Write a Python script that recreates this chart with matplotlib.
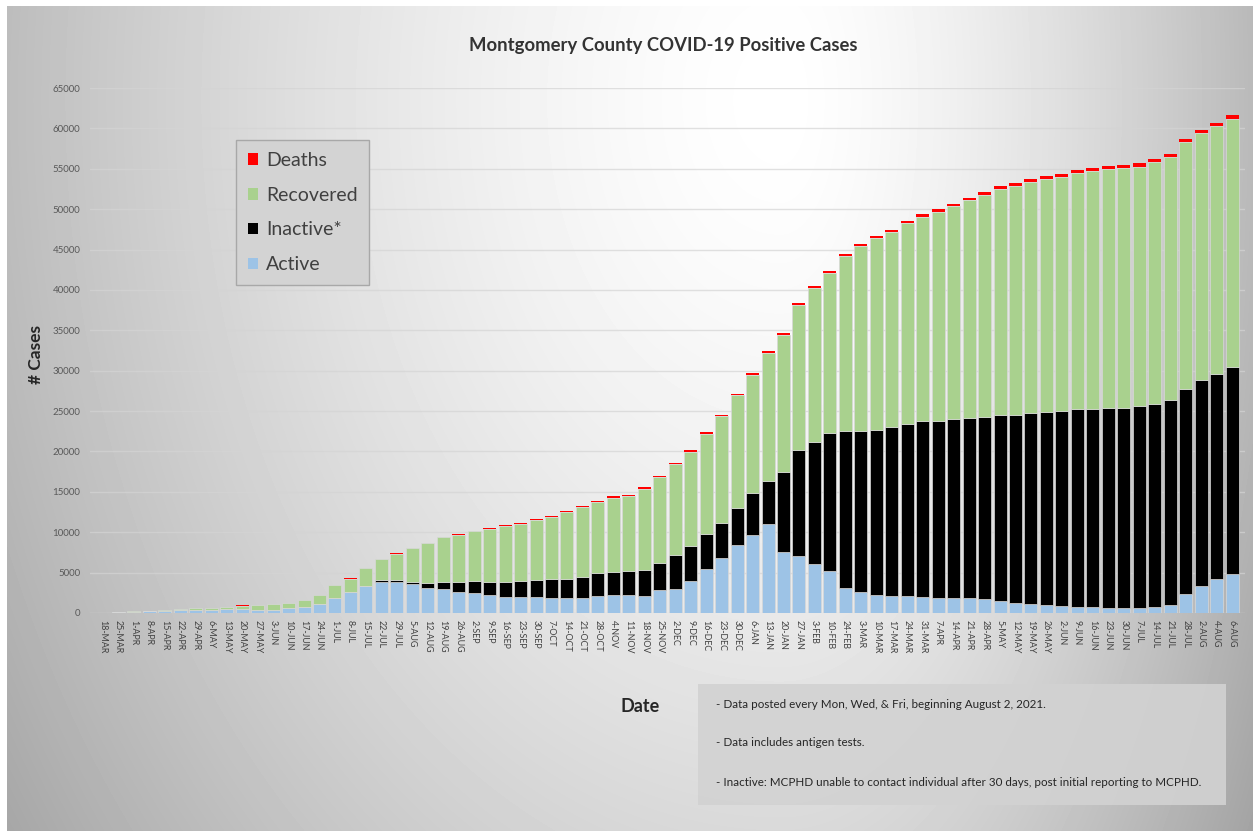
import numpy as np
import matplotlib
matplotlib.use("Agg")
import matplotlib.pyplot as plt
from matplotlib.patches import Rectangle, Patch

plt.rcParams['font.family'] = ['Lato', 'DejaVu Sans']

# weekly report dates (2020-2021)
dates = ['18-MAR', '25-MAR', '1-APR', '8-APR', '15-APR', '22-APR', '29-APR', '6-MAY', '13-MAY',
         '20-MAY', '27-MAY', '3-JUN', '10-JUN', '17-JUN', '24-JUN', '1-JUL', '8-JUL', '15-JUL',
         '22-JUL', '29-JUL', '5-AUG', '12-AUG', '19-AUG', '26-AUG', '2-SEP', '9-SEP', '16-SEP',
         '23-SEP', '30-SEP', '7-OCT', '14-OCT', '21-OCT', '28-OCT', '4-NOV', '11-NOV', '18-NOV',
         '25-NOV', '2-DEC', '9-DEC', '16-DEC', '23-DEC', '30-DEC', '6-JAN', '13-JAN', '20-JAN',
         '27-JAN', '3-FEB', '10-FEB', '24-FEB', '3-MAR', '10-MAR', '17-MAR', '24-MAR', '31-MAR',
         '7-APR', '14-APR', '21-APR', '28-APR', '5-MAY', '12-MAY', '19-MAY', '26-MAY', '2-JUN',
         '9-JUN', '16-JUN', '23-JUN', '30-JUN', '7-JUL', '14-JUL', '21-JUL', '28-JUL', '2-AUG',
         '4-AUG', '6-AUG']

active = [8, 110, 180, 240, 300, 330, 400, 420, 450, 480, 430, 420, 600, 800, 1110,
          1820, 2560, 3340, 3880, 3850, 3590, 3050, 2930, 2560, 2440, 2230, 2020, 2020,
          1940, 1900, 1820, 1900, 2100, 2230, 2230, 2100, 2800, 3000, 4000, 5400, 6800,
          8400, 9700, 11000, 7600, 7000, 6100, 5200, 3100, 2600, 2200, 2100, 2100, 2000,
          1900, 1850, 1800, 1700, 1500, 1300, 1150, 1000, 900, 800, 700, 650, 600, 600,
          800, 1050, 2400, 3350, 4150, 4800]

inactive = [0, 0, 0, 0, 0, 0, 0, 0, 0, 0, 0, 0, 0, 0, 0, 0, 0, 0,
            210, 250, 290, 700, 950, 1320, 1520, 1650, 1860, 1940, 2150, 2310, 2390,
            2580, 2830, 2870, 3010, 3220, 3450, 4230, 4330, 4340, 4320, 4570, 5170,
            5380, 9800, 13180, 15060, 17060, 19380, 19880, 20410, 20910, 21260, 21720,
            21900, 22170, 22320, 22550, 22970, 23260, 23620, 23910, 24150, 24420,
            24570, 24700, 24840, 24980, 25090, 25270, 25300, 25450, 25490, 25640]

recovered = [2, 9, 17, 35, 63, 111, 169, 217, 335, 434, 553, 642, 682, 791, 1100,
             1630, 1700, 2240, 2570, 3250, 4150, 4900, 5500, 5820, 6140, 6580, 6870,
             7110, 7400, 7720, 8340, 8600, 8810, 9200, 9240, 10080, 10570, 11250, 11640,
             12440, 13260, 13960, 14620, 15850, 17000, 17950, 19090, 19840, 21680, 22910,
             23780, 24140, 24880, 25300, 25840, 26330, 26970, 27520, 28040, 28290, 28650,
             28830, 28990, 29260, 29470, 29620, 29610, 29700, 29910, 30140, 30570, 30670,
             30700, 30770]

deaths = [0, 1, 3, 5, 7, 9, 11, 13, 15, 16, 17, 18, 18, 19, 20, 21, 24, 28, 35, 45,
          55, 65, 75, 85, 95, 100, 105, 110, 113, 117, 120, 125, 128, 132, 135, 140,
          145, 150, 160, 170, 180, 190, 200, 215, 235, 255, 270, 285, 300, 310, 320,
          325, 330, 335, 340, 345, 350, 352, 355, 357, 360, 362, 364, 366, 368, 370,
          372, 374, 376, 378, 380, 383, 386, 390]

W, H = 1253, 831
fig = plt.figure(figsize=(W / 100, H / 100), dpi=100)

# gray radial background, white towards the top centre
yy, xx = np.mgrid[0:H, 0:W]
cx, cy = 780, 100
sx = np.where(xx < cx, 950, 560)
d = np.sqrt(((xx - cx) / sx) ** 2 + ((yy - cy) / 1300) ** 2)
bg = np.clip(255 - 90 * np.minimum(d, 1.3) ** 1.5, 150, 255) / 255
bg[:6, :] = 1
bg[:, :7] = 1
bax = fig.add_axes([0, 0, 1, 1], zorder=-1)
bax.imshow(bg, cmap='gray', vmin=0, vmax=1, aspect='auto', interpolation='bilinear')
bax.axis('off')

ax = fig.add_axes([90 / W, (H - 613) / H, 1155 / W, 525 / H])
ax.set_facecolor('none')

x = np.arange(len(dates))
act = np.array(active)
ina = np.array(inactive)
rec = np.array(recovered)
dea = np.array(deaths)

w = 0.84
ec = '#d8d8d8'
ax.bar(x, act, w, color='#9dc3e6', edgecolor=ec, linewidth=0.5, zorder=3)
ax.bar(x, ina, w, bottom=act, color='black', edgecolor=ec, linewidth=0.5, zorder=3)
ax.bar(x, rec, w, bottom=act + ina, color='#a9d18e', edgecolor=ec, linewidth=0.5, zorder=3)
ax.bar(x, dea, w, bottom=act + ina + rec, color='#ff0000', edgecolor='none', zorder=3)

ax.set_xlim(-0.84, 73.84)
ax.set_ylim(0, 65000)
ax.set_yticks(range(0, 65001, 5000))
ax.yaxis.grid(True, color='#d4d4d4', linewidth=1, alpha=0.7, zorder=0)
ax.set_xticks(x)
ax.set_xticklabels(dates, rotation=-90, fontsize=6.4, color='#404040')
ax.tick_params(axis='x', length=0, pad=5)
ax.tick_params(axis='y', length=0, pad=7, labelsize=7, labelcolor='#595959')
for s in ax.spines.values():
    s.set_visible(False)

fig.text(663 / W, 1 - 45 / H, 'Montgomery County COVID-19 Positive Cases',
         ha='center', va='center', fontsize=13.3, fontweight='bold', color='#333333')
fig.text(36 / W, 1 - 355 / H, '# Cases', rotation=90, ha='center', va='center',
         fontsize=12.5, fontweight='bold', color='#262626')
fig.text(640 / W, 1 - 706 / H, 'Date', ha='center', va='center',
         fontsize=13, fontweight='bold', color='#262626')

handles = [Patch(facecolor='#ff0000'), Patch(facecolor='#a9d18e'),
           Patch(facecolor='black'), Patch(facecolor='#9dc3e6')]
leg = fig.legend(handles, ['Deaths', 'Recovered', 'Inactive*', 'Active'],
                 loc='upper left', bbox_to_anchor=(236 / W, 1 - 140 / H),
                 fontsize=14, frameon=True, fancybox=False, handlelength=0.55,
                 handleheight=0.55, handletextpad=0.4, labelspacing=0.92,
                 borderpad=0.6, borderaxespad=0)
leg.get_frame().set_facecolor('#d3d3d3')
leg.get_frame().set_edgecolor('#a8a8a8')
leg.get_frame().set_alpha(1)
for t in leg.get_texts():
    t.set_color('#404040')

fig.patches.append(Rectangle((698 / W, 1 - 805 / H), 528 / W, 121 / H,
                             transform=fig.transFigure, facecolor='#d2d2d2',
                             edgecolor='none', alpha=0.9, zorder=1))
notes = ['- Data posted every Mon, Wed, & Fri, beginning August 2, 2021.',
         '- Data includes antigen tests.',
         '- Inactive: MCPHD unable to contact individual after 30 days, post initial reporting to MCPHD.']
for k, yl in enumerate([705, 743, 782]):
    fig.text(716 / W, 1 - yl / H, notes[k], ha='left', va='center',
             fontsize=8.4, color='#262626')

fig.savefig('out.png', dpi=100)
